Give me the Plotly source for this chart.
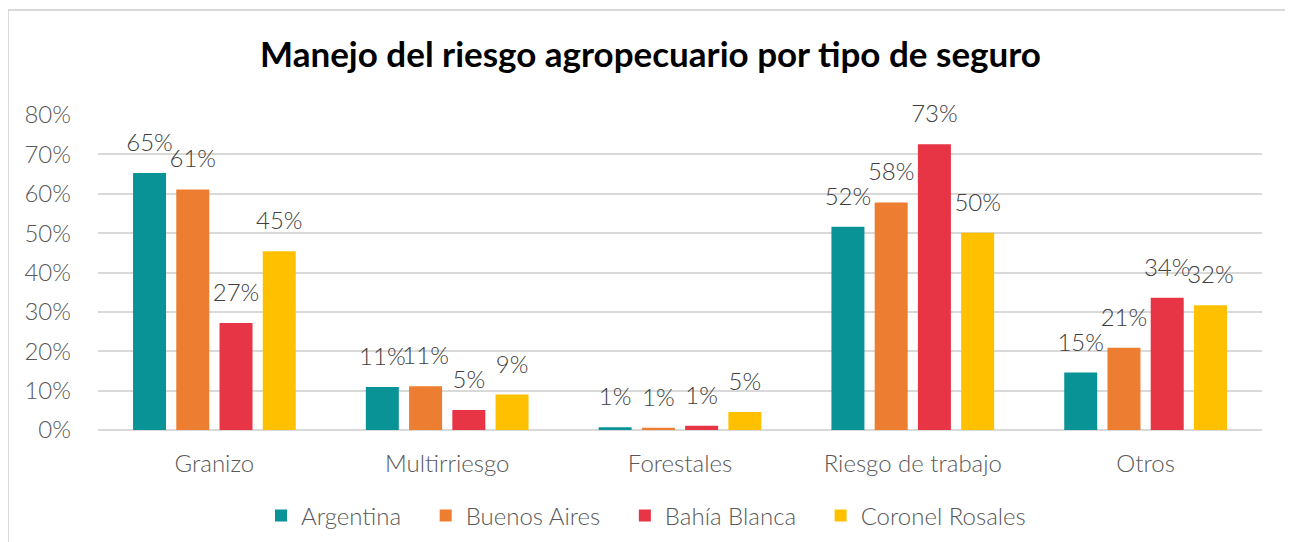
import plotly.graph_objects as go

categories = ["Granizo", "Multirriesgo", "Forestales", "Riesgo de trabajo", "Otros"]
series_names = ["Argentina", "Buenos Aires", "Bahía Blanca", "Coronel Rosales"]
argentina = [0.653, 0.109, 0.007, 0.516, 0.146]
buenos_aires = [0.611, 0.111, 0.006, 0.578, 0.209]
bahia_blanca = [0.272, 0.051, 0.011, 0.726, 0.336]
coronel_rosales = [0.454, 0.090, 0.046, 0.501, 0.317]
y_ticks = [0, 0.1, 0.2, 0.3, 0.4, 0.5, 0.6, 0.7, 0.8]

colors = ["#0A9396", "#ED7D31", "#E83546", "#FFC000"]
all_values = [argentina, buenos_aires, bahia_blanca, coronel_rosales]

FONT = "Lato"
W, H = 1285, 534
L, R, T, B = 90, 31, 107, 112
PW, PH = W - L - R, H - T - B
BARGAP = 0.257
PAD = "\u00a0\u00a0\u00a0"

fig = go.Figure()
for name, vals, col in zip(series_names, all_values, colors):
    fig.add_trace(go.Bar(
        name=name + PAD, x=categories, y=vals, offsetgroup=name,
        marker=dict(color=col, line=dict(width=0)),
        hovertemplate=name + ": %{y:.0%}<extra></extra>",
    ))
for name, vals in zip(series_names, all_values):
    fig.add_trace(go.Scatter(
        x=categories, y=vals, offsetgroup=name, mode="markers+text",
        marker=dict(size=24, color="rgba(0,0,0,0)"),
        text=[f"{round(v*100):.0f}%" for v in vals],
        textposition="top center", cliponaxis=False, showlegend=False,
        textfont=dict(family=FONT, size=24, color="#404040", weight=300),
        hoverinfo="skip",
    ))

fig.update_layout(
    width=W, height=H,
    paper_bgcolor="white", plot_bgcolor="white",
    margin=dict(l=L, r=R, t=T, b=B, autoexpand=False),
    barmode="group", bargap=BARGAP, bargroupgap=0.237,
    scattermode="group", scattergap=BARGAP,
    title=dict(text="<b>Manejo del riesgo agropecuario por tipo de seguro</b>",
               x=0.5, xanchor="center", y=1 - 47 / H, yanchor="middle",
               font=dict(family=FONT, size=35, color="#000000")),
    legend=dict(orientation="h", x=(648 - L) / PW, xanchor="center", y=(422 - 508) / PH, yanchor="middle",
                font=dict(family=FONT, size=24, color="#595959", weight=300),
                traceorder="normal", itemwidth=30),
    font=dict(family=FONT, color="#595959"),
    showlegend=True,
)
fig.update_yaxes(range=[0, 0.8], tickvals=y_ticks, tickformat=".0%",
                 showgrid=True, gridcolor="#D9D9D9", gridwidth=1.5,
                 zeroline=True, zerolinecolor="#D9D9D9", zerolinewidth=1.5,
                 tickfont=dict(family=FONT, size=24, color="#595959", weight=300),
                 ticks="", ticklabelstandoff=26, showline=False)
fig.update_xaxes(tickfont=dict(family=FONT, size=24, color="#595959", weight=300),
                 showline=False, ticks="", ticklabelstandoff=17)

fig.add_shape(type="rect", xref="paper", yref="paper",
              x0=(0 - L) / PW, x1=(1284 - L) / PW, y0=(PH + T - 560) / PH, y1=(PH + T - 2) / PH,
              line=dict(color="#D9D9D9", width=2), fillcolor="rgba(0,0,0,0)", layer="below")

fig.write_html("out.html")
